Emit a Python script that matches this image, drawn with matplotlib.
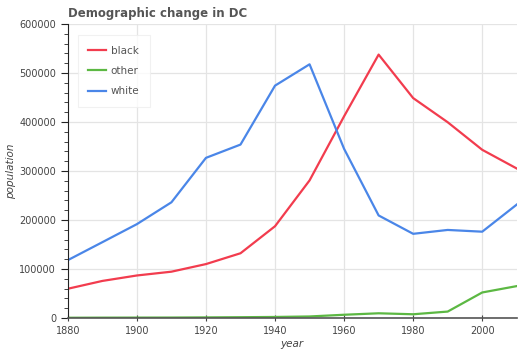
import matplotlib
matplotlib.use('Agg')
import matplotlib.pyplot as plt
from matplotlib.ticker import MultipleLocator

# recensements de DC, par groupe
years = [1880, 1890, 1900, 1910, 1920, 1930, 1940, 1950, 1960, 1970, 1980, 1990, 2000, 2010]
black = [59596, 75572, 86702, 94446, 109966, 132068, 187266, 280803, 411737, 537712, 448906, 399604, 343312, 305125]
other = [400, 600, 700, 800, 1100, 1500, 2000, 3000, 6500, 9500, 7500, 13000, 52000, 65000]
white = [118006, 154695, 191532, 236128, 326860, 353981, 474326, 517865, 345263, 209272, 171768, 179667, 176101, 231471]

series = [('black', black, '#f23c4e'), ('other', other, '#5cb843'), ('white', white, '#4a86e8')]

plt.rcParams['font.family'] = ['DejaVu Sans']
fig = plt.figure(figsize=(5.30, 3.49), dpi=100)
ax = fig.add_axes([0.128, 0.089, 0.847, 0.842])

for nom, vals, couleur in series:
    ax.plot(years, vals, color=couleur, lw=1.6, label=nom)

ax.set_xlim(1880, 2010)
ax.set_ylim(0, 600000)
ax.xaxis.set_major_locator(MultipleLocator(20))
ax.yaxis.set_major_locator(MultipleLocator(100000))
ax.yaxis.set_minor_locator(MultipleLocator(20000))
ax.grid(True, color='#e4e4e4', lw=0.9)
ax.set_axisbelow(True)

for cote in ('top', 'right'):
    ax.spines[cote].set_visible(False)
ax.spines['left'].set_color('#222222')
ax.spines['bottom'].set_color('#555555')
ax.spines['bottom'].set_linewidth(1.2)
ax.tick_params(axis='y', which='major', length=5, color='#222222', labelsize=7, labelcolor='#444444')
ax.tick_params(axis='y', which='minor', length=3, color='#222222')
ax.tick_params(axis='x', which='major', length=4, direction='inout', color='#444444',
               labelsize=7, labelcolor='#444444', pad=4)

ax.set_title('Demographic change in DC', loc='left', fontsize=8.5, fontweight='bold',
             color='#555555', pad=5)
ax.set_ylabel('population', fontsize=7.5, style='italic', color='#444444', labelpad=2)
ax.set_xlabel('year', fontsize=7.5, style='italic', color='#444444', labelpad=2)

leg = ax.legend(loc='upper left', bbox_to_anchor=(0.01, 0.98), fontsize=7.5, frameon=True,
                handlelength=1.7, labelspacing=1.0, borderpad=1.0, handletextpad=0.5,
                fancybox=False)
leg.get_frame().set_edgecolor('#eeeeee')
leg.get_frame().set_linewidth(0.8)
for t in leg.get_texts():
    t.set_color('#555555')

fig.savefig('out.png', dpi=100)
